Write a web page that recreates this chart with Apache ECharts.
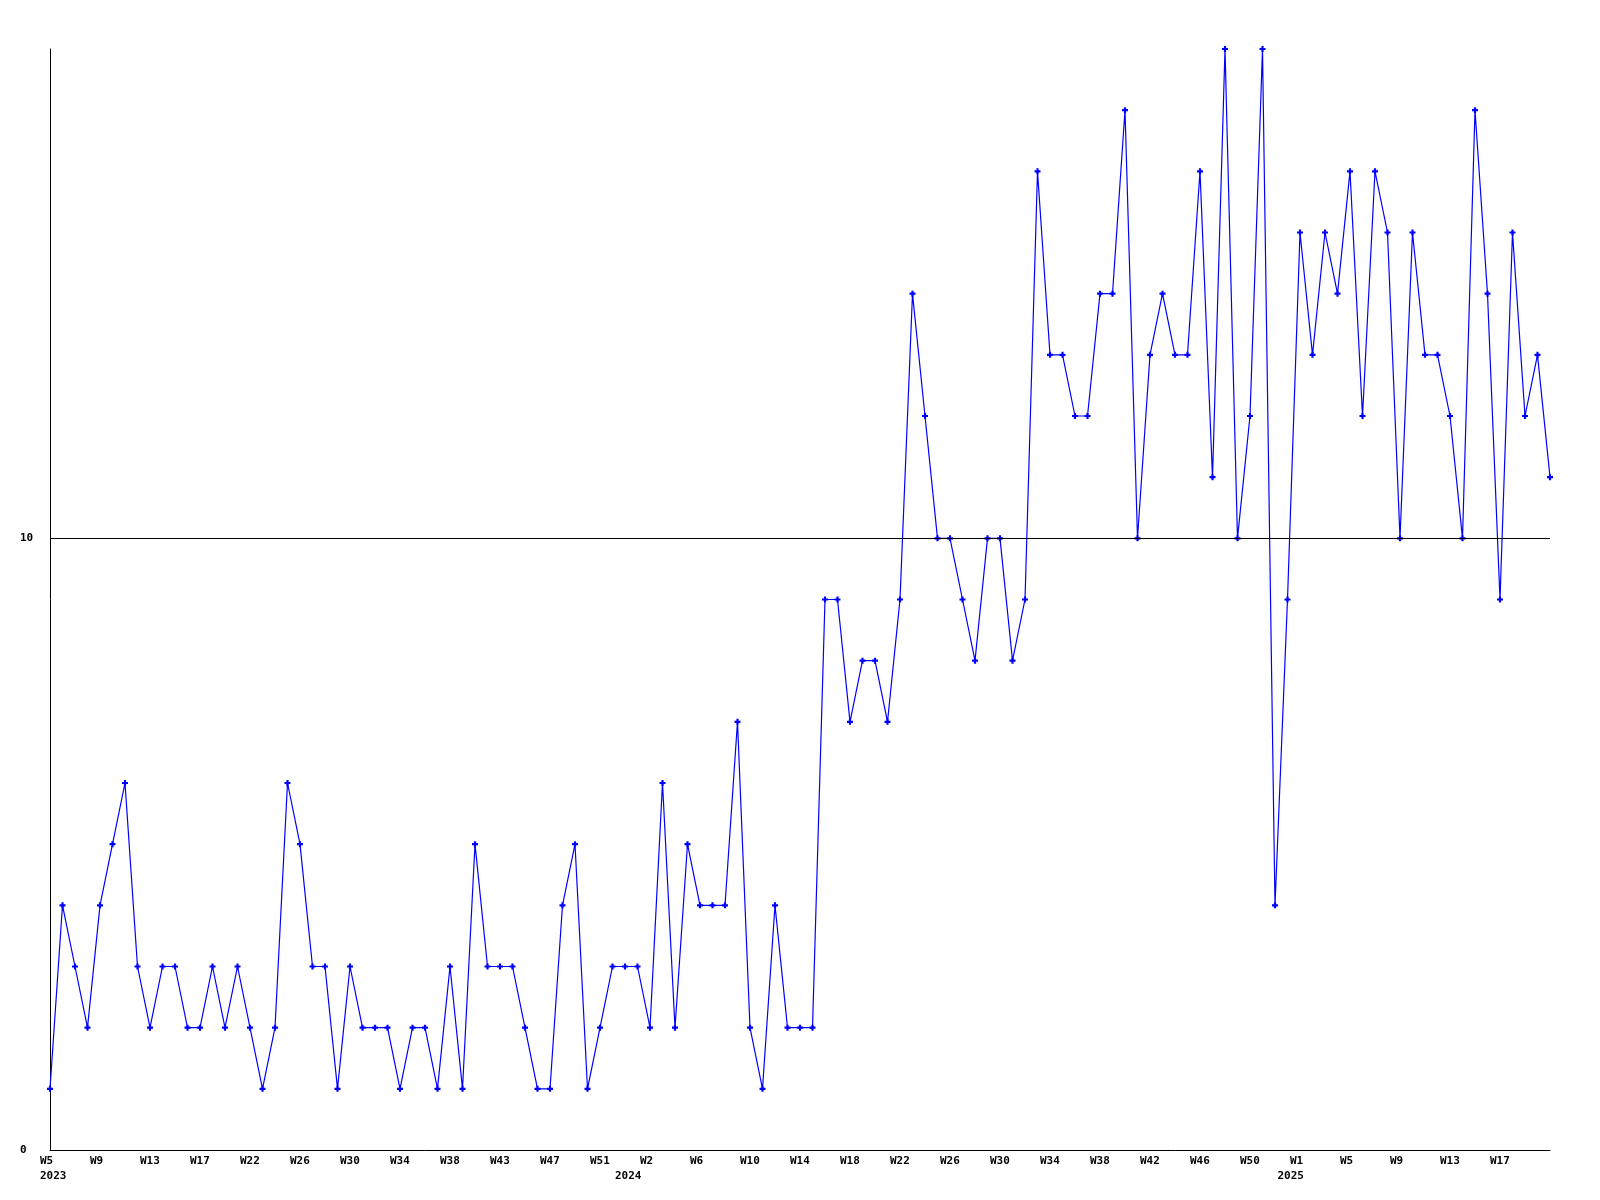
<!DOCTYPE html>
<html>
<head>
<meta charset="utf-8">
<script src="https://cdn.jsdelivr.net/npm/echarts@6/dist/echarts.min.js"></script>
<style>html,body{margin:0;padding:0;background:#fff}#chart{width:1600px;height:1200px}</style>
</head>
<body>
<div id="chart"></div>
<script>
// Weekly values, 2023 W5 .. 2025
const values = [
  1, 4, 3, 2, 4, 5, 6, 3, 2, 3, 3, 2, 2, 3, 2, 3, 2, 1, 2, 6,
  5, 3, 3, 1, 3, 2, 2, 2, 1, 2, 2, 1, 3, 1, 5, 3, 3, 3, 2, 1,
  1, 4, 5, 1, 2, 3, 3, 3, 2, 6, 2, 5, 4, 4, 4, 7, 2, 1, 4, 2,
  2, 2, 9, 9, 7, 8, 8, 7, 9, 14, 12, 10, 10, 9, 8, 10, 10, 8, 9, 16,
  13, 13, 12, 12, 14, 14, 17, 10, 13, 14, 13, 13, 16, 11, 18, 10, 12, 18, 4, 9,
  15, 13, 15, 14, 16, 12, 16, 15, 10, 15, 13, 13, 12, 10, 17, 14, 9, 15, 12, 13,
  11
];
// x-axis tick labels, one every 4 points
const tickLabels = ['W5','W9','W13','W17','W22','W26','W30','W34','W38','W43','W47','W51',
  'W2','W6','W10','W14','W18','W22','W26','W30','W34','W38','W42','W46','W50',
  'W1','W5','W9','W13','W17'];
const tickStep = 4;
// year labels and the point index where each appears
const yearLabels = ['2023','2024','2025'];
const yearIndex = [0, 46, 99];
// y-axis
const yMin = 0, yMax = 18, yInterval = 10;
const refLineValue = 10;

const categories = values.map((_, i) => String(i));
const font = '"DejaVu Sans Mono", "Liberation Mono", monospace';

const chart = echarts.init(document.getElementById('chart'), null, {renderer: 'canvas'});
const labelBase = {fontFamily: font, fontWeight: 'bold', fontSize: 11, color: '#000'};

chart.setOption({
  animation: false,
  backgroundColor: '#fff',
  grid: [
    {left: 50, right: 50, top: 49, bottom: 50, containLabel: false},
    {left: 40, right: 60, top: 49, bottom: 50, containLabel: false}
  ],
  xAxis: [
    {
      type: 'category', gridIndex: 0, data: categories, boundaryGap: false,
      axisLine: {show: true, lineStyle: {color: '#000', width: 1}},
      axisTick: {show: false}, axisLabel: {show: false}, splitLine: {show: false}
    },
    {
      type: 'category', gridIndex: 1, data: categories, boundaryGap: false,
      axisLine: {show: false}, axisTick: {show: false}, splitLine: {show: false},
      axisLabel: Object.assign({}, labelBase, {
        show: true, align: 'left', margin: 6,
        interval: (i) => i % tickStep === 0 && (i / tickStep) < tickLabels.length,
        formatter: (v, i) => (i % tickStep === 0 ? (tickLabels[i / tickStep] || '') : '')
      })
    },
    {
      type: 'category', gridIndex: 1, data: categories, boundaryGap: false, position: 'bottom',
      axisLine: {show: false}, axisTick: {show: false}, splitLine: {show: false},
      axisLabel: Object.assign({}, labelBase, {
        show: true, align: 'left', margin: 21,
        interval: (i) => yearIndex.indexOf(i) >= 0,
        formatter: (v, i) => { const k = yearIndex.indexOf(i); return k >= 0 ? yearLabels[k] : ''; }
      })
    }
  ],
  yAxis: [
    {
      type: 'value', gridIndex: 0, min: yMin, max: yMax, interval: yInterval,
      axisLine: {show: true, lineStyle: {color: '#000', width: 1}},
      axisTick: {show: false}, splitLine: {show: false},
      axisLabel: Object.assign({}, labelBase, {
        align: 'left', margin: 30, showMaxLabel: false,
        formatter: (v) => (v % yInterval === 0 ? String(v) : '')
      })
    },
    {
      type: 'value', gridIndex: 1, min: yMin, max: yMax, show: false
    }
  ],
  series: [
    {
      type: 'line', xAxisIndex: 0, yAxisIndex: 0, data: values,
      lineStyle: {color: '#0000ff', width: 1.2},
      itemStyle: {color: '#0000ff'},
      symbol: 'path://M1.6,0H3.4V1.6H5V3.4H3.4V5H1.6V3.4H0V1.6H1.6Z', symbolSize: 6,
      showSymbol: true, showAllSymbol: true,
      markLine: {
        silent: true, symbol: ['none', 'none'], label: {show: false},
        lineStyle: {color: '#000', width: 1, type: 'solid'},
        data: [{yAxis: refLineValue}]
      }
    }
  ]
});
</script>
</body>
</html>
